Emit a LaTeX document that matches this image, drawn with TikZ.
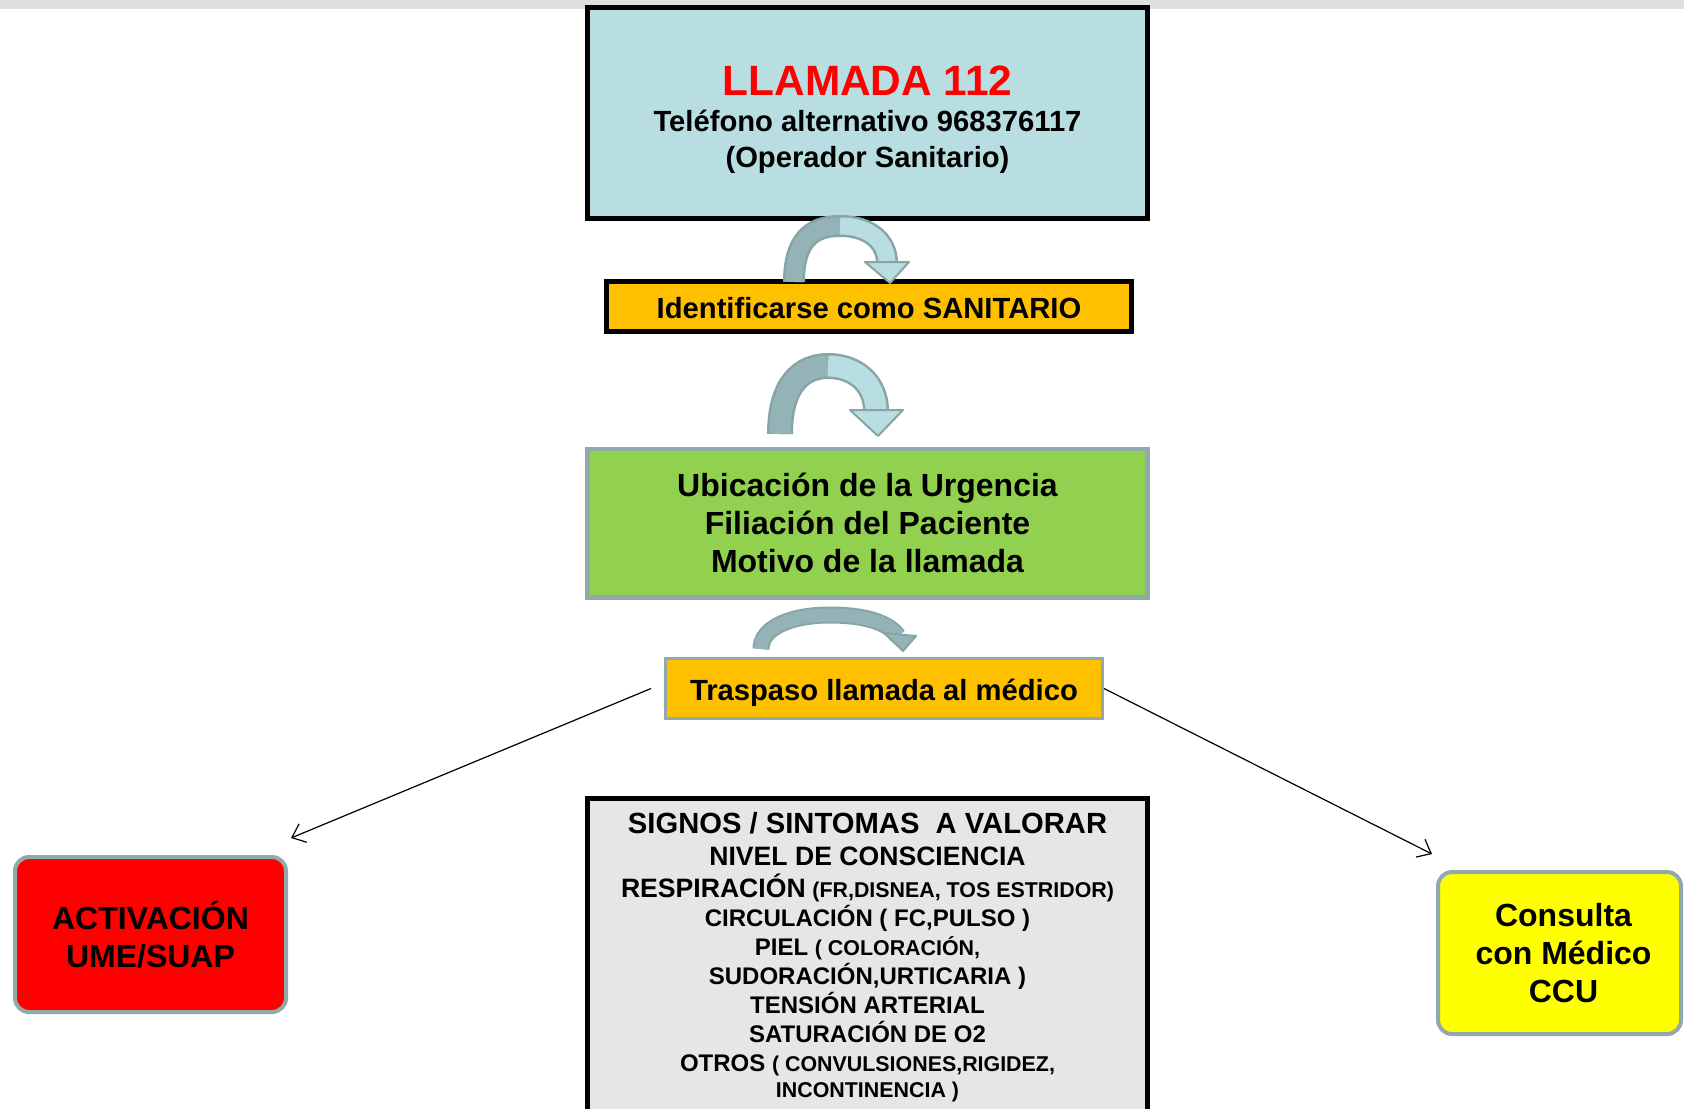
\documentclass[tikz,border=0pt]{standalone}
\usepackage{fontspec}
\setmainfont{Liberation Sans}
\usetikzlibrary{arrows.meta}

\definecolor{celeste}{HTML}{B9DEE2}
\definecolor{naranja}{HTML}{FFC000}
\definecolor{verde}{HTML}{92D050}
\definecolor{grisclaro}{HTML}{E6E6E6}
\definecolor{grisborde}{HTML}{8FA9AD}
\definecolor{flechaosc}{HTML}{93B3B6}
\definecolor{bordeflecha}{HTML}{87A4A7}
\definecolor{franja}{HTML}{DFDFDF}
\definecolor{rojo}{HTML}{FF0000}
\definecolor{amarillo}{HTML}{FFFF00}

\newcommand{\letraG}{\fontsize{21.2pt}{25pt}\selectfont}
\newcommand{\letraM}{\fontsize{16pt}{19.2pt}\selectfont}
\newcommand{\letraN}{\fontsize{14.6pt}{18pt}\selectfont}
\newcommand{\letraB}{\fontsize{13.3pt}{14.5pt}\selectfont}
\newcommand{\letraC}{\fontsize{12pt}{14.5pt}\selectfont}
\newcommand{\letraP}{\fontsize{10.7pt}{14.5pt}\selectfont}

\tikzset{
  caja/.style={draw, line width=2.4pt, align=center, inner sep=0pt, font=\bfseries},
  cajagris/.style={caja, draw=grisborde},
  cajaredonda/.style={cajagris, line width=2pt, rounded corners=7pt},
  contorno/.style={draw=bordeflecha, line width=#1, line cap=butt},
  relleno/.style={line width=#1, line cap=butt},
  punta/.style={draw=bordeflecha, line width=1pt, line join=round},
  conector/.style={-{Straight Barb[length=6pt,width=10pt]}, line width=0.6pt},
}

\begin{document}
\begin{tikzpicture}[x=0.5pt, y=-0.5pt]
    \clip (0,0) rectangle (1684,1108);
    \fill[franja] (0,0) rectangle (1684,9);

    \node[caja, fill=celeste, minimum width=280pt, minimum height=105.6pt, text height=58pt, font=\bfseries\letraN] (llamada) at (867.5,113) {{\letraG\color{rojo}LLAMADA 112}\\Teléfono alternativo 968376117\\(Operador Sanitario)};
    \node[caja, fill=naranja, minimum width=262.6pt, minimum height=25.1pt, text height=12.2pt, text depth=0pt, font=\bfseries\letraN] (sanitario) at (869,306.5) {Identificarse como SANITARIO};
    \node[cajagris, fill=verde, minimum width=280pt, minimum height=74.1pt, font=\bfseries\letraM] (datos) at (867.5,523) {Ubicación de la Urgencia\\Filiación del Paciente\\Motivo de la llamada};
    \node[cajagris, line width=1.6pt, fill=naranja, minimum width=218.4pt, minimum height=29.9pt, text height=12.2pt, text depth=0pt, font=\bfseries\letraN] (traspaso) at (884,688.5) {Traspaso llamada al médico};
    \node[caja, fill=grisclaro, anchor=north, minimum width=280pt, minimum height=158pt, font=\bfseries\letraC] (signos) at (867.5,796.4) {{\letraN SIGNOS / SINTOMAS\ \ A VALORAR}\\[1.5pt]
      {\letraB NIVEL DE CONSCIENCIA}\\[1.5pt]
      {\letraB RESPIRACIÓN} {\letraP (FR,DISNEA, TOS ESTRIDOR)}\\
      CIRCULACIÓN ( FC,PULSO )\\
      PIEL {\letraP ( COLORACIÓN,}\\
      SUDORACIÓN,URTICARIA )\\
      TENSIÓN ARTERIAL\\
      SATURACIÓN DE O2\\
      OTROS {\letraP ( CONVULSIONES,RIGIDEZ,}\\[-1.5pt]
      {\letraP INCONTINENCIA )}};
    \node[cajaredonda, fill=rojo, minimum width=135.5pt, minimum height=77.5pt, font=\bfseries\letraM] (activacion) at (150.5,934.5) {ACTIVACIÓN\\UME/SUAP};
    \node[cajaredonda, fill=amarillo, minimum width=121.5pt, minimum height=81pt, font=\bfseries\letraM] (consulta) at (1559.5,953) {\hspace*{4pt}Consulta\\\hspace*{4pt}con Médico\\\hspace*{4pt}CCU};

    % flechas curvas
    \draw[contorno=11pt] (794,282) .. controls (794,242) and (810,226) .. (840,226) .. controls (870,226) and (887,242) .. (887,263);
    \draw[relleno=8.5pt, draw=flechaosc] (794,282) .. controls (794,242) and (810,226) .. (840,226);
    \draw[relleno=8.5pt, draw=celeste] (840,226) .. controls (870,226) and (887,242) .. (887,263);
    \filldraw[punta, fill=celeste] (865,262) -- (909,262) -- (890,283) -- cycle; %hacia SANITARIO

    \draw[contorno=13pt] (780,434) .. controls (780,384) and (802,366) .. (828,366) .. controls (856,366) and (876,384) .. (876,411);
    \draw[relleno=10.5pt, draw=flechaosc] (780,434) .. controls (780,384) and (802,366) .. (828,366);
    \draw[relleno=10.5pt, draw=celeste] (828,366) .. controls (856,366) and (876,384) .. (876,411);
    \filldraw[punta, fill=celeste] (850,410) -- (903,410) -- (878,436) -- cycle; %hacia datos

    \draw[contorno=8.5pt] (761,649) .. controls (761,627) and (792,615) .. (830,615) .. controls (866,615) and (889,623) .. (898,636);
    \draw[relleno=6.5pt, draw=flechaosc] (761,649) .. controls (761,627) and (792,615) .. (830,615) .. controls (866,615) and (889,623) .. (898,636);
    \filldraw[punta, fill=flechaosc] (884,633) -- (916,636) -- (903,651) -- cycle; %hacia traspaso

    \draw[conector] ([xshift=-6.5pt]traspaso.west) -- ([shift={(1.5pt,8.5pt)}]activacion.north east);
    \draw[conector] (traspaso.east) -- ([shift={(-2pt,8pt)}]consulta.north west);
\end{tikzpicture}
\end{document}
